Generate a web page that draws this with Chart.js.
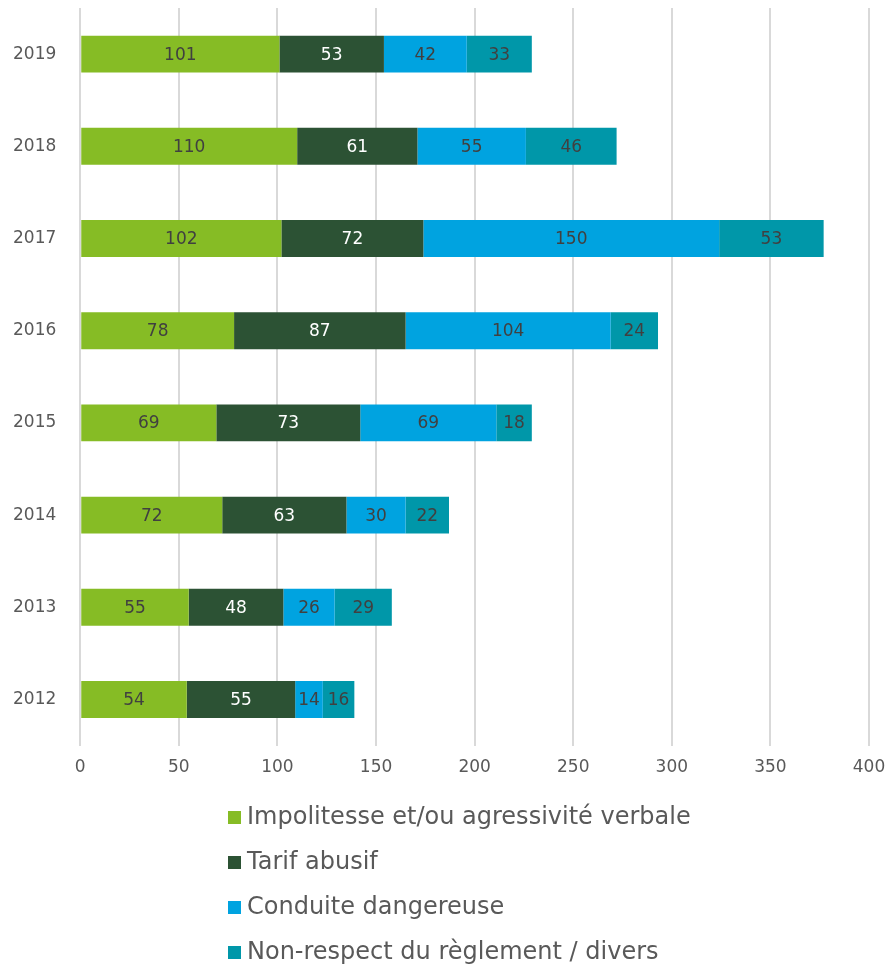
<!DOCTYPE html>
<html>
<head>
<meta charset="utf-8">
<script src="https://cdn.jsdelivr.net/npm/chart.js"></script>
<style>
  html, body { margin: 0; padding: 0; background: #fff; }
  #wrap { width: 887px; height: 965px; position: relative; }
</style>
</head>
<body>
<div id="wrap"><canvas id="plainte"></canvas></div>
<script>
// years, top to bottom
const years = ["2019", "2018", "2017", "2016", "2015", "2014", "2013", "2012"];

const impolitesse = [101, 110, 102, 78, 69, 72, 55, 54];
const tarifAbusif = [53, 61, 72, 87, 73, 63, 48, 55];
const conduite = [42, 55, 150, 104, 69, 30, 26, 14];
const nonRespect = [33, 46, 53, 24, 18, 22, 29, 16];

const seriesNames = [
    "Impolitesse et/ou agressivité verbale",
    "Tarif abusif",
    "Conduite dangereuse",
    "Non-respect du règlement / divers"
];
const xTicks = [0, 50, 100, 150, 200, 250, 300, 350, 400];

const FONT = "'DejaVu Sans', Verdana, sans-serif";
const colours = ["#86BC25", "#2C5234", "#00A3E0", "#0097A9"];
const labelColours = ["#404040", "#ffffff", "#404040", "#404040"];

// bar value labels, drawn in the middle of each segment
const valueLabels = {
    id: "valueLabels",
    afterDatasetsDraw(chart) {
        const ctx = chart.ctx;
        ctx.save();
        ctx.font = "17px " + FONT;
        ctx.textAlign = "center";
        ctx.textBaseline = "middle";
        chart.data.datasets.forEach((ds, i) => {
            chart.getDatasetMeta(i).data.forEach((bar, j) => {
                ctx.fillStyle = labelColours[i];
                ctx.fillText(ds.data[j], (bar.x + bar.base) / 2, bar.y + 1);
            });
        });
        ctx.restore();
    }
};

// legend stacked one item per line under the chart
const stackedLegend = {
    id: "stackedLegend",
    afterDraw(chart) {
        const ctx = chart.ctx;
        ctx.save();
        ctx.font = "24px " + FONT;
        ctx.textBaseline = "middle";
        ctx.textAlign = "left";
        chart.data.datasets.forEach((ds, i) => {
            const y = 817 + i * 45;
            ctx.fillStyle = ds.backgroundColor;
            ctx.fillRect(228, y - 6, 13, 13);
            ctx.fillStyle = "#595959";
            ctx.fillText(ds.label, 247, y + 1);
        });
        ctx.restore();
    }
};

const datasets = [impolitesse, tarifAbusif, conduite, nonRespect].map((vals, i) => ({
    label: seriesNames[i],
    data: vals,
    backgroundColor: colours[i],
    borderWidth: 0,
    barPercentage: 0.4,
    categoryPercentage: 1.0
}));

new Chart(document.getElementById("plainte").getContext("2d"), {
    type: "bar",
    data: { labels: years, datasets: datasets },
    plugins: [valueLabels, stackedLegend],
    options: {
        indexAxis: "y",
        responsive: true,
        maintainAspectRatio: false,
        animation: false,
        layout: { padding: { top: 8, right: 18, bottom: 175, left: -11 } },
        plugins: {
            legend: { display: false },
            tooltip: { enabled: false }
        },
        scales: {
            x: {
                stacked: true,
                min: 0,
                max: 400,
                afterBuildTicks: (axis) => { axis.ticks = xTicks.map(v => ({ value: v })); },
                afterFit: (s) => { s.paddingLeft = 0; s.paddingRight = 0; },
                grid: { color: "#D9D9D9", lineWidth: 2, drawTicks: false },
                border: { display: false },
                ticks: { color: "#595959", font: { family: FONT, size: 17 }, padding: 12 }
            },
            y: {
                stacked: true,
                afterFit: (s) => { s.paddingTop = 0; s.paddingBottom = 0; },
                grid: { display: false, drawTicks: false },
                border: { display: false },
                ticks: { color: "#595959", font: { family: FONT, size: 17 }, padding: 24 }
            }
        }
    }
});
</script>
</body>
</html>
